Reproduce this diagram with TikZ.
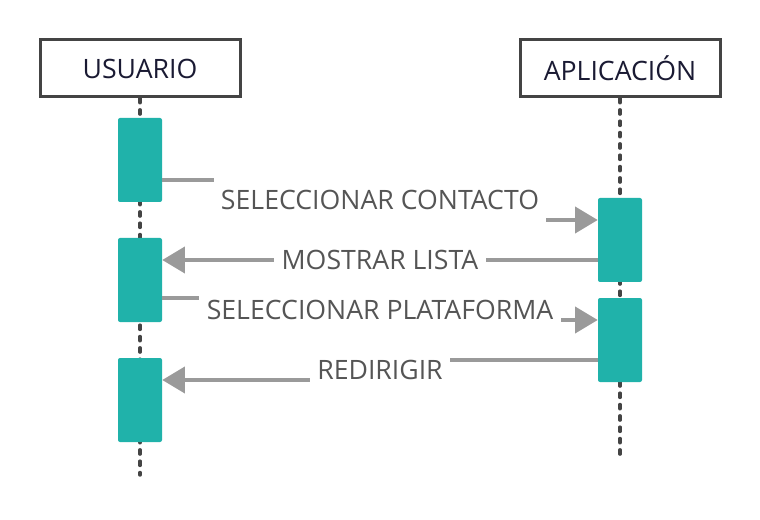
\documentclass[tikz,border=0pt]{standalone}
\usepackage{fontspec}
\setmainfont{Open Sans}
\usetikzlibrary{arrows.meta}
\definecolor{teal1}{HTML}{20B2AA}
\definecolor{arrowgray}{HTML}{9A9A9A}
\definecolor{boxborder}{HTML}{444444}
\definecolor{headtext}{HTML}{1A1A33}
\definecolor{msgtext}{HTML}{555555}
\tikzset{
  header/.style={draw=boxborder, line width=2.25pt, fill=white, minimum width=150pt, minimum height=42.75pt, inner sep=0pt, text=headtext, font=\fontsize{20pt}{24pt}\selectfont},
  actbox/.style={fill=teal1, rounded corners=1.5pt, minimum width=33pt, minimum height=63pt, inner sep=0pt},
  life/.style={draw=boxborder, line width=2.6pt, line cap=round, dash pattern=on 3.2pt off 5.3pt},
  msg/.style={draw=arrowgray, line width=3pt, -{Triangle[length=17pt,width=19.5pt]}},
  lbl/.style={fill=white, text=msgtext, inner xsep=5.5pt, inner ysep=10pt, font=\fontsize{20pt}{24pt}\selectfont}
}
\begin{document}
\begin{tikzpicture}[x=0.75pt,y=-0.75pt]
\useasboundingbox[fill=white] (0,0) rectangle (760,520);
% headers
\node[header] (u) at (140,68.5) {USUARIO};
\node[header] (ap) at (620,68.5) {APLICACIÓN};
% lifelines
\coordinate (uend) at (140,475);
\coordinate (apend) at (620,461);
\draw[life] (u.south) -- (uend);
\draw[life] (ap.south) -- (apend);
% activation boxes
\node[actbox] (a1) at (140,160) {};
\node[actbox] (a2) at (140,280) {};
\node[actbox] (a3) at (140,400) {};
\node[actbox] (b1) at (620,240) {};
\node[actbox] (b2) at (620,340) {};
% messages
\draw[msg] ([yshift=-15pt]a1.east) -| (380,200) node[lbl] {SELECCIONAR CONTACTO} |- ([yshift=15pt]b1.west);
\draw[msg] ([yshift=-15pt]b1.west) -- node[lbl] {MOSTRAR LISTA} ([yshift=15pt]a2.east);
\draw[msg] ([yshift=-13.5pt]a2.east) -| (380,310) node[lbl] {SELECCIONAR PLATAFORMA} |- ([yshift=15pt]b2.west);
\draw[msg] ([yshift=-15pt]b2.west) -| (380,370) node[lbl] {REDIRIGIR} |- ([yshift=15pt]a3.east);
\end{tikzpicture}
\end{document}
